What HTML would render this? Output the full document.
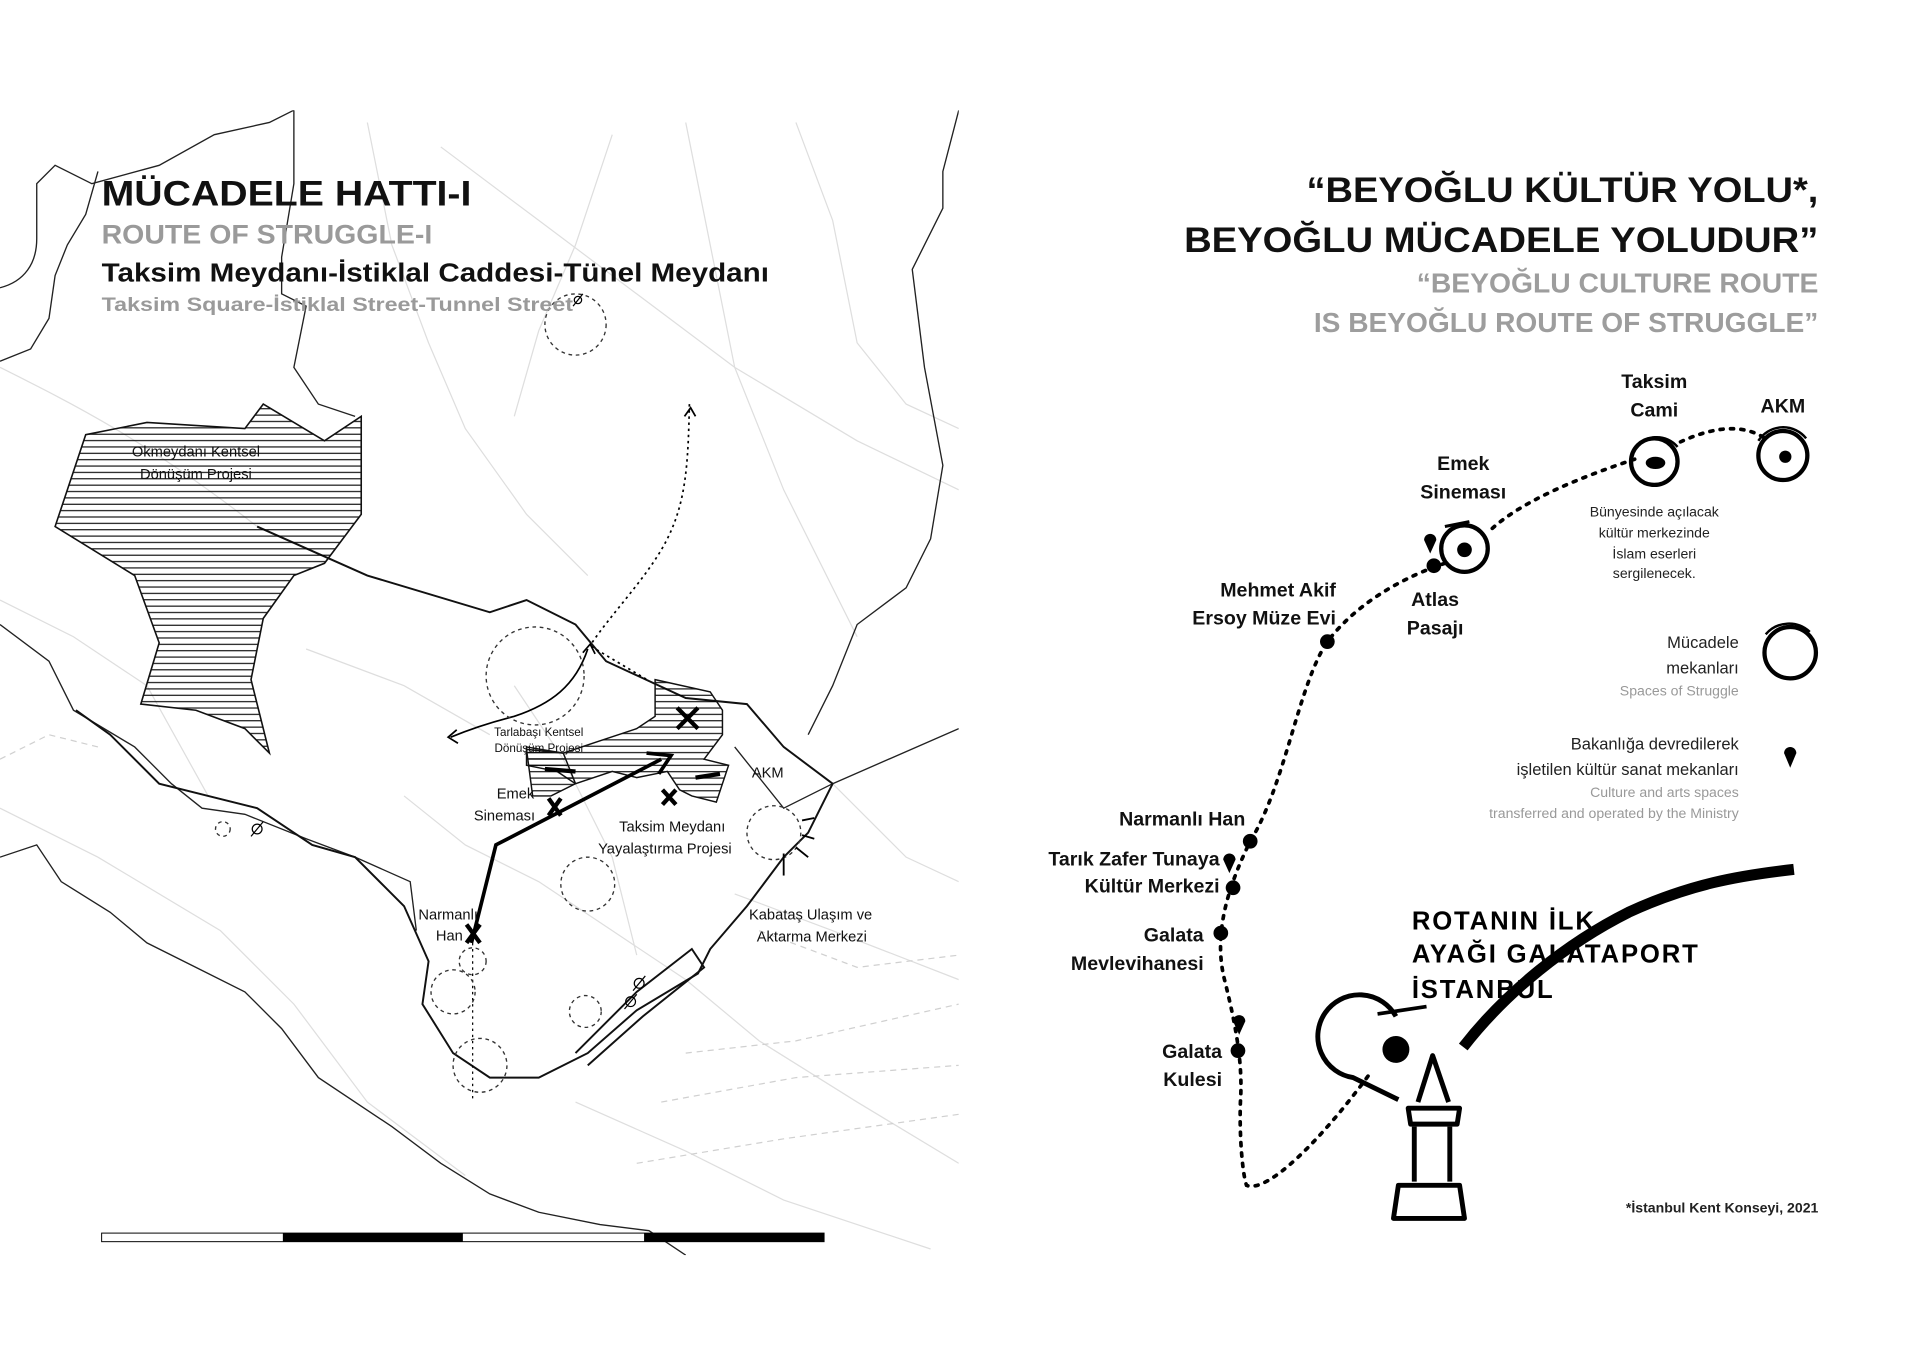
<!DOCTYPE html>
<html><head><meta charset="utf-8"><style>
html,body{margin:0;padding:0;background:#fff;}
svg{display:block;}
text{font-family:"Liberation Sans","DejaVu Sans",sans-serif;}
</style></head><body>
<svg width="1920" height="1358" viewBox="0 0 1568 1109" preserveAspectRatio="none" xmlns="http://www.w3.org/2000/svg">
<defs>
<pattern id="h" width="6" height="5.2" patternUnits="userSpaceOnUse"><line x1="0" y1="1" x2="6" y2="1" stroke="#000" stroke-width="0.9"/></pattern>
<clipPath id="cl"><rect x="0" y="90" width="783" height="935"/></clipPath>
</defs>
<g clip-path="url(#cl)" fill="none">
<g stroke="#dedede" stroke-width="1">
<path d="M0,300 C60,330 120,360 210,430 L300,470"/>
<path d="M0,490 L60,520 L120,560 L170,650"/>
<path d="M300,100 L320,200 L350,280 L380,350 L430,420 L480,470"/>
<path d="M360,120 L440,180 L520,240 L600,300 L700,360 L783,400"/>
<path d="M560,100 L580,200 L600,300 L640,400 L700,520"/>
<path d="M650,100 L680,180 L700,280 L740,330 L783,350"/>
<path d="M420,560 L460,620 L500,700 L520,780"/>
<path d="M330,650 L380,690 L440,720 L500,760 L560,800 L620,850 L700,900 L783,950"/>
<path d="M600,730 L680,760 L783,800"/>
<path d="M0,660 L80,700 L180,760 L240,820 L300,900 L380,960"/>
<path d="M250,530 L330,560 L400,600"/>
<path d="M470,900 L560,940 L640,980 L760,1020"/>
<path d="M680,640 L740,700 L783,720"/>
<path d="M500,110 L470,200 L440,270 L420,340"/>
</g>
<g stroke="#d0d0d0" stroke-width="1" stroke-dasharray="5,4">
<path d="M560,860 L650,850 L783,820"/>
<path d="M540,900 L650,880 L783,870"/>
<path d="M520,950 L640,930 L783,910"/>
<path d="M620,760 L700,790 L783,780"/>
<path d="M0,620 L40,600 L80,610"/>
</g>
<g stroke="#222" stroke-width="1.1">
<path d="M0,235 C20,230 30,215 30,195 L30,150 L45,135 L75,150 L130,135 L175,110 L220,100 L240,90"/>
<path d="M0,295 L25,285 L40,260 L45,225 L55,200 L70,175 L80,140"/>
<path d="M240,90 L240,150 L230,210 L230,240 L250,250 L240,300 L260,330 L290,340"/>
<path d="M783,90 L770,140 L770,170 L745,220 L755,300 L770,380 L760,440 L740,480 L700,510 L680,560 L660,600"/>
<path d="M0,510 L40,540 L60,580 L110,610 L140,640 L165,660 L200,665 L250,685 L290,700 L335,720 L340,760"/>
<path d="M0,700 L30,690 L50,720 L90,745 L120,770 L160,790 L200,810 L230,840 L260,880 L320,920 L360,950 L400,975 L440,990 L490,1000 L530,1005 L560,1025"/>
<path d="M600,610 L640,660 L680,640 L783,595"/>
</g>
<g stroke="#111" stroke-width="1.6">
<path d="M210,430 L300,470 L400,500 L430,490 L470,510 L495,540 L560,570 L610,575 L640,610 L680,640"/>
<path d="M62,580 L90,600 L130,640 L170,650 L210,660 L255,690 L290,700 L330,740 L350,785 L345,820 L370,860 L400,880 L440,880 L480,860 L520,825 L570,795 L580,775 L610,740 L640,700 L660,680 L680,640"/>
<path d="M470,860 L520,810 L565,775 L575,790 L525,830 L480,870"/>
</g>
<path d="M70,355 L120,345 L200,350 L215,330 L265,360 L295,340 L295,420 L265,460 L240,470 L215,505 L205,555 L220,615 L200,595 L160,580 L115,575 L130,525 L110,470 L45,430 Z" fill="url(#h)" stroke="#111" stroke-width="1.3"/>
<path d="M535,555 L580,565 L590,580 L590,600 L575,620 L595,625 L585,655 L565,650 L555,645 L545,630 L520,635 L500,630 L470,640 L455,630 L430,625 L430,610 L460,615 L490,605 L520,595 L535,585 Z" fill="url(#h)" stroke="#111" stroke-width="1.2"/>
<path d="M430,612 L460,615 L470,640 L450,650 L435,650 Z" fill="url(#h)" stroke="#111" stroke-width="1.2"/>
<g stroke="#000" stroke-width="3.5">
<line x1="445" y1="628" x2="470" y2="630"/><line x1="568" y1="635" x2="588" y2="632"/>
<line x1="553" y1="578" x2="570" y2="595"/><line x1="570" y1="578" x2="553" y2="595"/>
<line x1="541" y1="645" x2="552" y2="657"/><line x1="552" y1="645" x2="541" y2="657"/>
<line x1="448" y1="652" x2="458" y2="666"/><line x1="458" y1="652" x2="448" y2="666"/>
<line x1="381" y1="755" x2="392" y2="770"/><line x1="392" y1="755" x2="381" y2="770"/>
</g>
<path d="M385,770 L405,690 L540,620" stroke="#000" stroke-width="3"/>
<path d="M528,615 L548,617 L538,632" stroke="#000" stroke-width="3"/>
<path d="M563,330 C562,380 560,410 545,440 C530,470 500,500 482,527 M483,528 L530,556" stroke="#000" stroke-width="1.4" stroke-dasharray="2,3"/>
<path d="M480,530 C470,560 450,575 420,585 C400,590 385,595 368,602" stroke="#000" stroke-width="1.4"/>
<path d="M373,596 L366,602 L374,607 M476,533 L482,526 L486,534 M559,340 L564,333 L568,340" stroke="#000" stroke-width="1.4"/>
<path d="M386,770 L386,900" stroke="#000" stroke-width="1" stroke-dasharray="2,3"/>
<g stroke="#333" stroke-width="1.1" stroke-dasharray="3,3">
<circle cx="470" cy="265" r="25"/><circle cx="437" cy="552" r="40"/><circle cx="480" cy="722" r="22"/>
<circle cx="632" cy="680" r="22"/><circle cx="370" cy="810" r="18"/><circle cx="392" cy="870" r="22"/>
<circle cx="478" cy="826" r="13"/><circle cx="386" cy="785" r="11"/><circle cx="182" cy="677" r="6"/>
</g>
<g stroke="#000" stroke-width="1"><circle cx="210" cy="677" r="4"/><line x1="205" y1="683" x2="215" y2="671"/>
<circle cx="522" cy="803" r="4"/><line x1="517" y1="809" x2="527" y2="797"/><circle cx="515" cy="818" r="4"/><line x1="510" y1="824" x2="520" y2="812"/>
<circle cx="472" cy="245" r="3"/><line x1="468" y1="250" x2="476" y2="240"/></g>
<g stroke="#000" stroke-width="1.5"><line x1="655" y1="670" x2="665" y2="668"/><line x1="655" y1="682" x2="665" y2="685"/><line x1="650" y1="692" x2="660" y2="700"/><line x1="640" y1="697" x2="640" y2="715"/></g>
</g>
<g font-size="12" fill="#111" text-anchor="middle">
<text x="160" y="373">Okmeydanı Kentsel</text><text x="160" y="391">Dönüşüm Projesi</text>
<text x="440" y="601" font-size="9.5">Tarlabaşı Kentsel</text><text x="440" y="614" font-size="9.5">Dönüşüm Projesi</text>
<text x="421" y="652">Emek</text><text x="412" y="670">Sineması</text>
<text x="614" y="635" text-anchor="start">AKM</text>
<text x="549" y="679">Taksim Meydanı</text><text x="543" y="697">Yayalaştırma Projesi</text>
<text x="366" y="751">Narmanlı</text><text x="367" y="768">Han</text>
<text x="662" y="751">Kabataş Ulaşım ve</text><text x="663" y="769">Aktarma Merkezi</text>
</g>
<text x="83" y="168" font-size="29" font-weight="bold" fill="#111" textLength="302" lengthAdjust="spacingAndGlyphs">MÜCADELE HATTI-I</text>
<text x="83" y="199" font-size="22" font-weight="bold" fill="#9a9a9a" textLength="270" lengthAdjust="spacingAndGlyphs">ROUTE OF STRUGGLE-I</text>
<text x="83" y="230" font-size="21" font-weight="bold" fill="#111" textLength="545" lengthAdjust="spacingAndGlyphs">Taksim Meydanı-İstiklal Caddesi-Tünel Meydanı</text>
<text x="83" y="254" font-size="16" font-weight="bold" fill="#9a9a9a" textLength="385" lengthAdjust="spacingAndGlyphs">Taksim Square-İstiklal Street-Tunnel Street</text>
<rect x="83" y="1007" width="590" height="7" fill="#fff" stroke="#000" stroke-width="0.8"/>
<rect x="231" y="1007" width="147" height="7" fill="#000"/><rect x="526" y="1007" width="147" height="7" fill="#000"/>

<g font-weight="bold">
<text x="1067" y="165" font-size="29" fill="#111" textLength="418" lengthAdjust="spacingAndGlyphs">“BEYOĞLU KÜLTÜR YOLU*,</text>
<text x="967" y="206" font-size="29" fill="#111" textLength="518" lengthAdjust="spacingAndGlyphs">BEYOĞLU MÜCADELE YOLUDUR”</text>
<text x="1157" y="239" font-size="23" fill="#9d9d9d" textLength="328" lengthAdjust="spacingAndGlyphs">“BEYOĞLU CULTURE ROUTE</text>
<text x="1073" y="271" font-size="23" fill="#9d9d9d" textLength="412" lengthAdjust="spacingAndGlyphs">IS BEYOĞLU ROUTE OF STRUGGLE”</text>
</g>
<path d="M1440,357 C1420,345 1395,350 1370,362 M1335,375 C1290,390 1240,410 1215,435 M1180,460 C1150,470 1110,490 1084,524 C1060,560 1050,640 1021,687 C1005,720 990,760 1000,800 C1010,840 1015,870 1013,900 C1012,930 1015,960 1018,968 C1035,975 1080,930 1120,875" fill="none" stroke="#000" stroke-width="3" stroke-dasharray="2.5,6" stroke-linecap="round"/>
<g fill="none" stroke="#000" stroke-width="3.5">
<circle cx="1351" cy="377" r="19"/><path d="M1334,368 A22,22 0 0 1 1370,365" stroke-width="2"/>
<circle cx="1456" cy="372" r="20"/><path d="M1436,360 A24,24 0 0 1 1475,358" stroke-width="2"/>
<circle cx="1196" cy="448" r="19"/><path d="M1180,430 L1200,426" stroke-width="2.5"/>
<circle cx="1462" cy="533" r="21"/><path d="M1442,518 A25,25 0 0 1 1478,516" stroke-width="2"/>
<path d="M1140,830 A34,34 0 1 0 1105,880 L1142,898" stroke-width="4"/><path d="M1125,828 L1165,822" stroke-width="3"/>
</g>
<ellipse cx="1352" cy="378" rx="8" ry="5" fill="#000"/>
<circle cx="1458" cy="373" r="5" fill="#000"/>
<circle cx="1196" cy="449" r="6" fill="#000"/>
<circle cx="1140" cy="857" r="11" fill="#000"/>
<g fill="#000"><circle cx="1171" cy="462" r="6"/><circle cx="1084" cy="524" r="6"/><circle cx="1021" cy="687" r="6"/><circle cx="1007" cy="725" r="6"/><circle cx="997" cy="762" r="6"/><circle cx="1011" cy="858" r="6"/>
<path d="M1163,441 a5,5 0 1 1 10,0 L1168,452 Z"/><path d="M999,702 a5,5 0 1 1 10,0 L1004,713 Z"/><path d="M1007,834 a5,5 0 1 1 10,0 L1012,845 Z"/><path d="M1457,615 a5,5 0 1 1 10,0 L1462,627 Z"/></g>
<g fill="none" stroke="#000" stroke-width="4" stroke-linejoin="round">
<path d="M1158,900 L1170,862 L1183,900"/>
<path d="M1150,905 L1192,905 L1190,918 L1152,918 Z"/>
<path d="M1155,920 L1155,965 M1184,920 L1184,965"/>
<path d="M1142,968 L1192,968 L1196,995 L1138,995 Z"/>
</g>
<path d="M1195,855 C1230,810 1280,770 1330,745 C1380,722 1420,715 1465,710" fill="none" stroke="#000" stroke-width="9"/>
<g font-weight="bold" font-size="21" fill="#000" letter-spacing="1.5">
<text x="1153" y="759">ROTANIN İLK</text><text x="1153" y="786">AYAĞI GALATAPORT</text><text x="1153" y="815">İSTANBUL</text>
</g>
<g font-weight="bold" font-size="16" fill="#111" text-anchor="middle">
<text x="1351" y="317">Taksim</text><text x="1351" y="340">Cami</text>
<text x="1456" y="337">AKM</text>
<text x="1195" y="384">Emek</text><text x="1195" y="407">Sineması</text>
<text x="1172" y="495">Atlas</text><text x="1172" y="518">Pasajı</text>
</g>
<g font-weight="bold" font-size="16" fill="#111" text-anchor="end">
<text x="1091" y="487">Mehmet Akif</text><text x="1091" y="510">Ersoy Müze Evi</text>
<text x="1017" y="674">Narmanlı Han</text>
<text x="996" y="707">Tarık Zafer Tunaya</text><text x="996" y="729">Kültür Merkezi</text>
<text x="983" y="769">Galata</text><text x="983" y="792">Mevlevihanesi</text>
<text x="998" y="864">Galata</text><text x="998" y="887">Kulesi</text>
</g>
<g font-size="11.5" fill="#222" text-anchor="middle">
<text x="1351" y="422">Bünyesinde açılacak</text><text x="1351" y="439">kültür merkezinde</text><text x="1351" y="456">İslam eserleri</text><text x="1351" y="472">sergilenecek.</text>
</g>
<g font-size="13.5" fill="#222" text-anchor="end">
<text x="1420" y="529">Mücadele</text><text x="1420" y="550">mekanları</text>
<text x="1420" y="568" font-size="11.5" fill="#999">Spaces of Struggle</text>
<text x="1420" y="612">Bakanlığa devredilerek</text><text x="1420" y="633">işletilen kültür sanat mekanları</text>
<text x="1420" y="651" font-size="11.5" fill="#999">Culture and arts spaces</text>
<text x="1420" y="668" font-size="11.5" fill="#999">transferred and operated by the Ministry</text>
<text x="1485" y="990" font-size="11.5" font-weight="bold">*İstanbul Kent Konseyi, 2021</text>
</g>
</svg>
</body></html>
